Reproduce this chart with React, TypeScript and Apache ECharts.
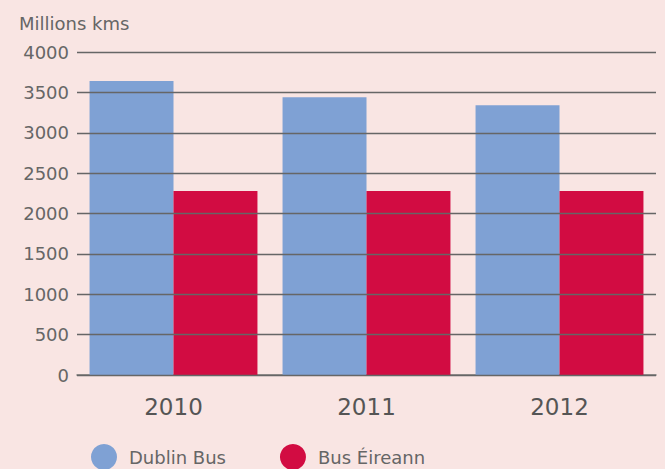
import React, { useEffect, useRef } from "react";
import * as echarts from "echarts";

const categories = ["2010", "2011", "2012"];
const dublinBus = [3640, 3440, 3340];
const busEireann = [2280, 2280, 2280];
const yTicks = [0, 500, 1000, 1500, 2000, 2500, 3000, 3500, 4000];

export default function App() {
  const ref = useRef<HTMLDivElement>(null);
  useEffect(() => {
    if (!ref.current) return;
    const chart = echarts.init(ref.current, null, { renderer: "svg" });
    const font = "DejaVu Sans";
    chart.setOption({
      animation: false,
      backgroundColor: "#f9e5e3",
      title: {
        text: "Millions kms",
        left: 14,
        top: 9,
        textStyle: { fontFamily: font, fontSize: 18, fontWeight: "normal", color: "#666" },
      },
      legend: {
        left: 86,
        top: 439,
        icon: "circle",
        itemWidth: 26,
        itemHeight: 26,
        itemGap: 54,
        textStyle: { fontFamily: font, fontSize: 18, color: "#666", padding: [0, 0, 0, 7] },
        data: ["Dublin Bus", "Bus Éireann"],
      },
      grid: { left: 77, right: 9, top: 52, bottom: 469 - 375 },
      xAxis: {
        type: "category",
        data: categories,
        axisLine: { show: true, lineStyle: { color: "#777", width: 1.5 } },
        axisTick: { show: false },
        axisLabel: { fontFamily: font, fontSize: 23, color: "#555", margin: 20 },
      },
      yAxis: {
        type: "value",
        min: yTicks[0],
        max: yTicks[yTicks.length - 1],
        interval: 500,
        z: 5,
        axisLine: { show: false },
        axisTick: { show: false },
        axisLabel: { fontFamily: font, fontSize: 18, color: "#666", margin: 8, formatter: (v: number) => String(v) },
        splitLine: { show: true, lineStyle: { color: "#666", width: 1.3 } },
      },
      series: [
        {
          name: "Dublin Bus",
          type: "bar",
          data: dublinBus,
          itemStyle: { color: "#7fa1d4" },
          barGap: "0%",
          barCategoryGap: "13%",
        },
        {
          name: "Bus Éireann",
          type: "bar",
          data: busEireann,
          itemStyle: { color: "#d20c42" },
        },
      ],
    });
    return () => chart.dispose();
  }, []);
  return <div ref={ref} style={{ width: 665, height: 469, position: "absolute", left: 0, top: 0 }} />;
}
